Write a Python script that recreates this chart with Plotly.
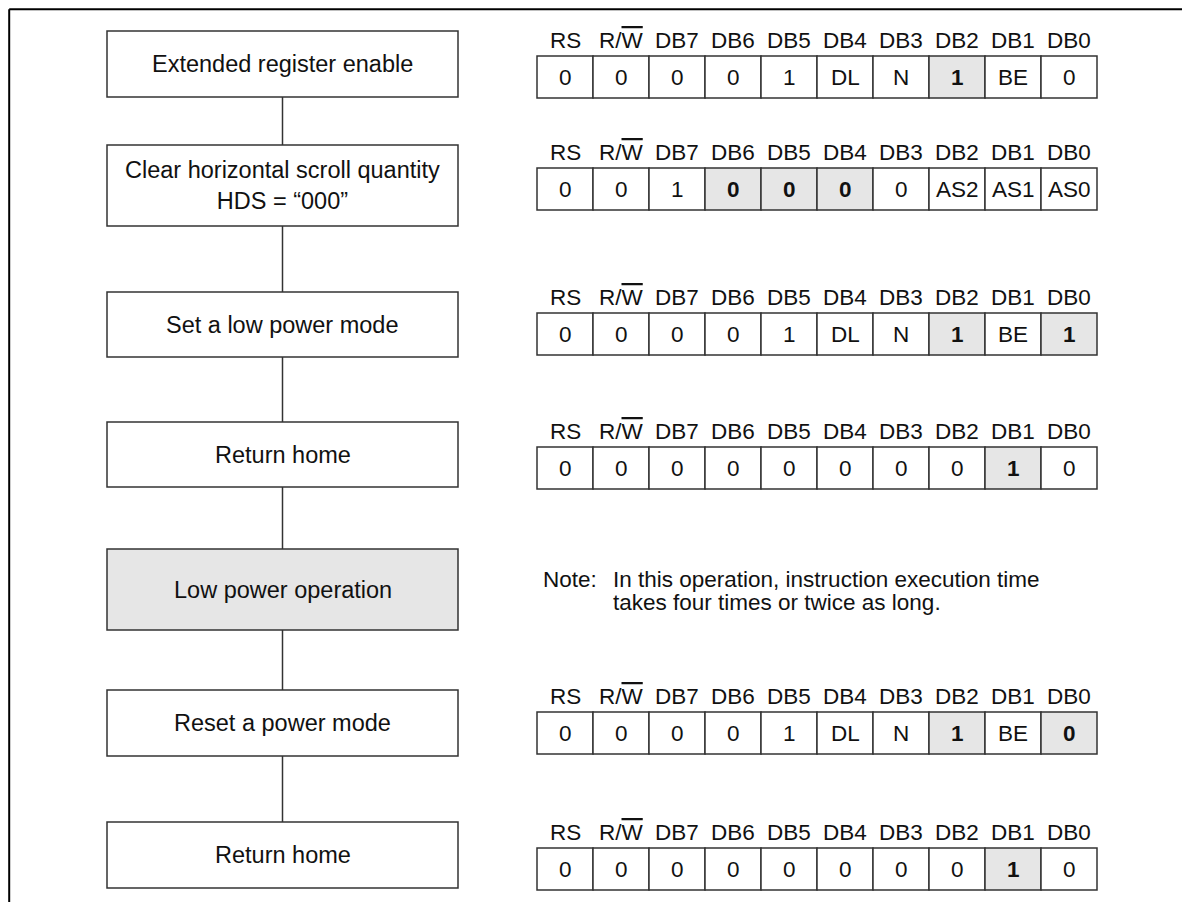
import plotly.graph_objects as go

# Flow steps (left column)
steps = [
    "Extended register enable",
    "Clear horizontal scroll quantity<br>HDS = \u201c000\u201d",
    "Set a low power mode",
    "Return home",
    "Low power operation",
    "Reset a power mode",
    "Return home",
]
shaded_steps = [4]

# Instruction bit names and codes per step (None = no code table)
bit_names = ["RS", "R/<span style='text-decoration:overline'>W</span>",
             "DB7", "DB6", "DB5", "DB4", "DB3", "DB2", "DB1", "DB0"]
codes = [
    ["0", "0", "0", "0", "1", "DL", "N", "1", "BE", "0"],
    ["0", "0", "1", "0", "0", "0", "0", "AS2", "AS1", "AS0"],
    ["0", "0", "0", "0", "1", "DL", "N", "1", "BE", "1"],
    ["0", "0", "0", "0", "0", "0", "0", "0", "1", "0"],
    None,
    ["0", "0", "0", "0", "1", "DL", "N", "1", "BE", "0"],
    ["0", "0", "0", "0", "0", "0", "0", "0", "1", "0"],
]
highlighted = [[7], [3, 4, 5], [7, 9], [8], [], [7, 9], [8]]

note_label = "Note:"
note_lines = ["In this operation, instruction execution time",
              "takes four times or twice as long."]

# layout geometry (page pixels; the page body has an 8px margin)
W, H = 1190, 902
OFF = 8
box_x0, box_x1 = 107, 458
box_tops = [31, 145, 292, 422, 549, 690, 822]
box_bottoms = [97, 226, 357, 487, 630, 756, 888]
table_x0, cell_w = 537, 56
table_tops = [56, 168, 313, 447, None, 712, 848]
cell_h = 42

FONT = "Liberation Sans, Arial, sans-serif"
LINE = "#333333"
SHADE = "#e6e6e6"
TXT = "#111111"

shapes = []
annotations = []

# outer frame (top and left edges only visible)
fr = OFF + 1.2
shapes.append(dict(type="line", x0=fr, y0=fr, x1=W + 5, y1=fr, line=dict(color="#000", width=2)))
shapes.append(dict(type="line", x0=fr, y0=fr, x1=fr, y1=H + 5, line=dict(color="#000", width=2)))

cx = (box_x0 + box_x1) / 2
for i, label in enumerate(steps):
    y0, y1 = box_tops[i], box_bottoms[i]
    shapes.append(dict(type="rect", x0=box_x0, x1=box_x1, y0=y0, y1=y1,
                       fillcolor=SHADE if i in shaded_steps else "white",
                       line=dict(color=LINE, width=1.5), layer="below"))
    annotations.append(dict(x=cx, y=(y0 + y1) / 2, text=label, showarrow=False,
                            xanchor="center", yanchor="middle",
                            font=dict(family=FONT, size=23.5, color=TXT)))
    if i > 0:
        shapes.append(dict(type="line", x0=cx, x1=cx, y0=box_bottoms[i - 1], y1=y0,
                           line=dict(color=LINE, width=1.5)))

for i, row in enumerate(codes):
    if row is None:
        continue
    top = table_tops[i]
    for j, val in enumerate(row):
        x0 = table_x0 + j * cell_w
        hl = j in highlighted[i]
        shapes.append(dict(type="rect", x0=x0, x1=x0 + cell_w, y0=top, y1=top + cell_h,
                           fillcolor=SHADE if hl else "white",
                           line=dict(color=LINE, width=1.5), layer="below"))
        annotations.append(dict(x=x0 + cell_w / 2, y=top + cell_h / 2,
                                text="<b>%s</b>" % val if hl else val,
                                showarrow=False, xanchor="center", yanchor="middle",
                                font=dict(family=FONT, size=22.5, color=TXT)))
        annotations.append(dict(x=x0 + cell_w / 2, y=top - 16, text=bit_names[j],
                                showarrow=False, xanchor="center", yanchor="middle",
                                font=dict(family=FONT, size=22.5, color=TXT)))

annotations.append(dict(x=541, y=579, text=note_label, showarrow=False,
                        xanchor="left", yanchor="middle",
                        font=dict(family=FONT, size=22.5, color=TXT)))
for k, line in enumerate(note_lines):
    annotations.append(dict(x=611, y=579 + 23 * k, text=line, showarrow=False,
                            xanchor="left", yanchor="middle",
                            font=dict(family=FONT, size=22.5, color=TXT)))

fig = go.Figure()
fig.update_layout(
    width=W - OFF, height=H - OFF,
    margin=dict(l=0, r=0, t=0, b=0),
    paper_bgcolor="white", plot_bgcolor="white",
    xaxis=dict(range=[OFF, W], visible=False, fixedrange=True),
    yaxis=dict(range=[H, OFF], visible=False, fixedrange=True),
    shapes=shapes,
    annotations=annotations,
    showlegend=False,
)

fig.write_html("out.html")
